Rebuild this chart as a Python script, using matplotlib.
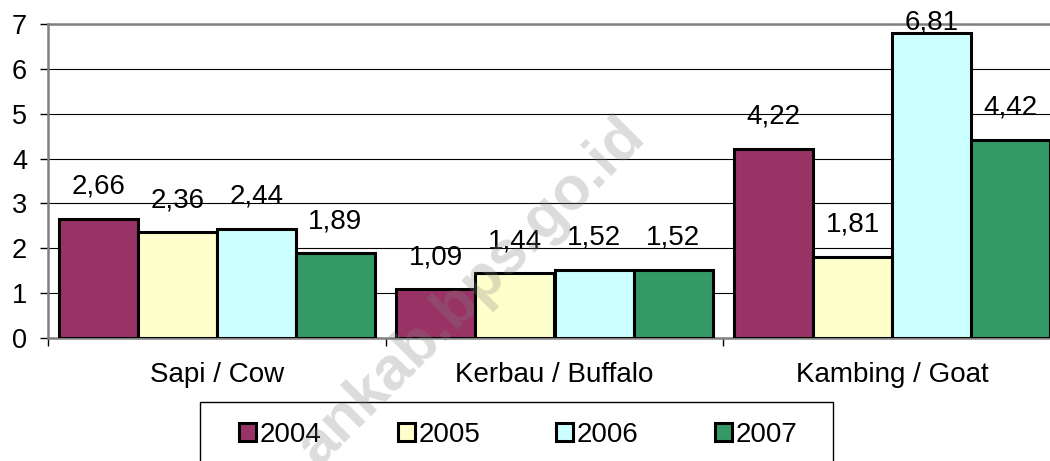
import numpy as np
import matplotlib
matplotlib.use("Agg")
import matplotlib.pyplot as plt
from matplotlib.patches import Rectangle

plt.rcParams['font.family'] = ['Liberation Sans', 'DejaVu Sans']

# Data
categories = ['Sapi / Cow', 'Kerbau / Buffalo', 'Kambing / Goat']
years = ['2004', '2005', '2006', '2007']
v2004 = [2.66, 1.09, 4.22]
v2005 = [2.36, 1.44, 1.81]
v2006 = [2.44, 1.52, 6.81]
v2007 = [1.89, 1.52, 4.42]
series = [v2004, v2005, v2006, v2007]
colors = ['#993366', '#FFFFCC', '#CCFFFF', '#339966']

fig = plt.figure(figsize=(10.5, 4.61), dpi=100)
ax = fig.add_axes([48 / 1050, 123 / 461, 1013 / 1050, 314 / 461])

x = np.arange(len(categories))
width = 0.234
offsets = (np.arange(4) - 1.5) * width

for vals, yr, col, off in zip(series, years, colors, offsets):
    ax.bar(x + off, vals, width, color=col, edgecolor='black', linewidth=2.2,
           label=yr, zorder=3)
    for xi, v in zip(x, vals):
        ty = min(v + 0.71, 7.03)
        ax.text(xi + off, ty, f"{v:.2f}".replace('.', ','), ha='center', va='center',
                fontsize=20, zorder=4, clip_on=False)

ax.set_xlim(-0.5, 2.5)
ax.set_ylim(0, 7)
ax.set_yticks(range(0, 8))
ax.tick_params(axis='y', labelsize=19.5, length=6, width=1, pad=9)

ax.set_xticks(x)
ax.set_xticklabels(categories, fontsize=20)
ax.tick_params(axis='x', length=0, pad=17)
ax.set_xticks([-0.5, 0.5, 1.5, 2.5], minor=True)
ax.tick_params(axis='x', which='minor', length=6, width=1)

ax.grid(axis='y', color='black', linewidth=0.8, zorder=0)
ax.set_axisbelow(True)
for s in ['left', 'top', 'bottom']:
    ax.spines[s].set_color('#808080')
    ax.spines[s].set_linewidth(1.8)
ax.spines['right'].set_visible(False)

# legend box
fig.patches.append(Rectangle((200 / 1050, -20 / 461), 633 / 1050, 79 / 461,
                             transform=fig.transFigure, facecolor='white',
                             edgecolor='black', linewidth=1, zorder=1))
leg = fig.legend(loc='center left', bbox_to_anchor=(239 / 1050, 26 / 461, 558 / 1050, 0),
                 mode='expand', ncol=4, frameon=False, fontsize=20, borderpad=0,
                 borderaxespad=0, handlelength=0.62, handleheight=0.62,
                 handletextpad=0.12)
leg.set_zorder(2)
for h in leg.legend_handles:
    h.set_linewidth(2.2)

# watermark
fig.text(472 / 1050, 1 - 292 / 461, 'ankab.bps.go.id', fontsize=44, fontweight='bold',
         color='gray', alpha=0.28, rotation=45, ha='center', va='center',
         rotation_mode='anchor', zorder=10)

fig.savefig('out.png', dpi=100)
